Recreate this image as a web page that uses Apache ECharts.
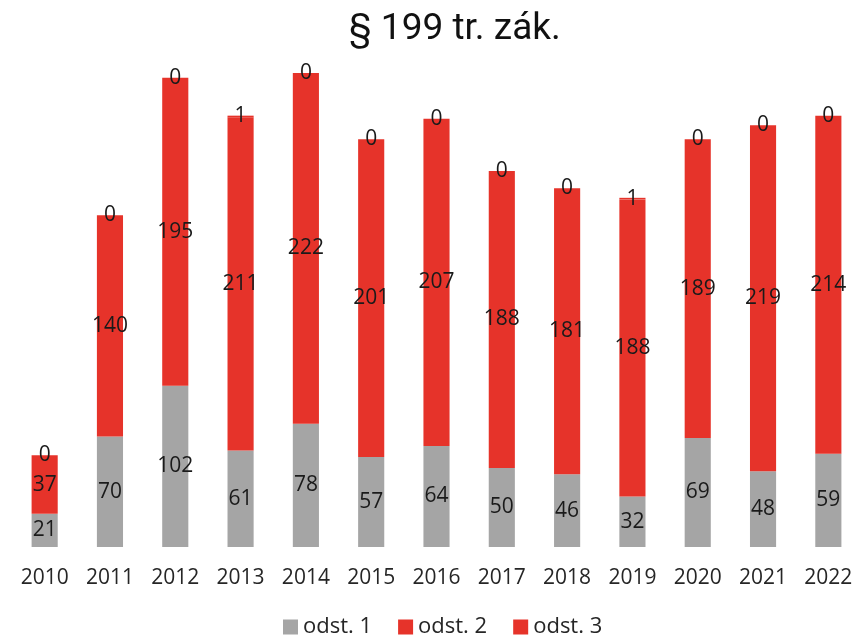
<!DOCTYPE html>
<html lang="cs">
<head>
<meta charset="UTF-8">
<title>§ 199 tr. zák.</title>
<script src="https://cdn.jsdelivr.net/npm/echarts@6/dist/echarts.min.js"></script>
<style>
html, body { margin: 0; padding: 0; background: #fff; }
#chart { width: 861px; height: 641px; }
</style>
</head>
<body>
<div id="chart"></div>
<script>
const years = ['2010', '2011', '2012', '2013', '2014', '2015', '2016', '2017', '2018', '2019', '2020', '2021', '2022'];
const odst1 = [21, 70, 102, 61, 78, 57, 64, 50, 46, 32, 69, 48, 59];
const odst2 = [37, 140, 195, 211, 222, 201, 207, 188, 181, 188, 189, 219, 214];
const odst3 = [0, 0, 0, 1, 0, 0, 0, 0, 0, 1, 0, 0, 0];

const font = '"Open Sans", "Noto Sans", sans-serif';
const labelStyle = {
  show: true,
  position: 'inside',
  color: '#1a1a1a',
  fontSize: 21,
  fontFamily: font
};

const chart = echarts.init(document.getElementById('chart'));
chart.setOption({
  animation: false,
  title: {
    text: '§ 199 tr. zák.',
    left: 344,
    top: 6,
    textStyle: {
      fontFamily: 'Roboto, sans-serif',
      fontSize: 37,
      fontWeight: 'normal',
      color: '#111'
    }
  },
  legend: {
    bottom: -2,
    left: 278,
    itemWidth: 15,
    itemHeight: 15,
    itemGap: 26,
    icon: 'rect',
    textStyle: { fontFamily: font, fontSize: 22, color: '#262626' },
    data: ['odst. 1', 'odst. 2', 'odst. 3']
  },
  grid: { left: 12, right: -5, top: 73, bottom: 94 },
  xAxis: {
    type: 'category',
    data: years,
    axisLine: { show: false },
    axisTick: { show: false },
    axisLabel: {
      interval: 0,
      hideOverlap: false,
      margin: 21,
      fontFamily: font,
      fontSize: 21,
      color: '#262626'
    }
  },
  yAxis: {
    type: 'value',
    min: 0,
    max: 300,
    show: false
  },
  series: [{
    name: 'odst. 1',
    type: 'bar',
    stack: 'all',
    barWidth: '40%',
    data: odst1,
    itemStyle: { color: '#A5A5A5' },
    label: labelStyle
  }, {
    name: 'odst. 2',
    type: 'bar',
    stack: 'all',
    data: odst2,
    itemStyle: { color: '#E6332A' },
    label: labelStyle
  }, {
    name: 'odst. 3',
    type: 'bar',
    stack: 'all',
    data: odst3,
    itemStyle: { color: '#E6332A' },
    label: labelStyle
  }]
});
</script>
</body>
</html>
